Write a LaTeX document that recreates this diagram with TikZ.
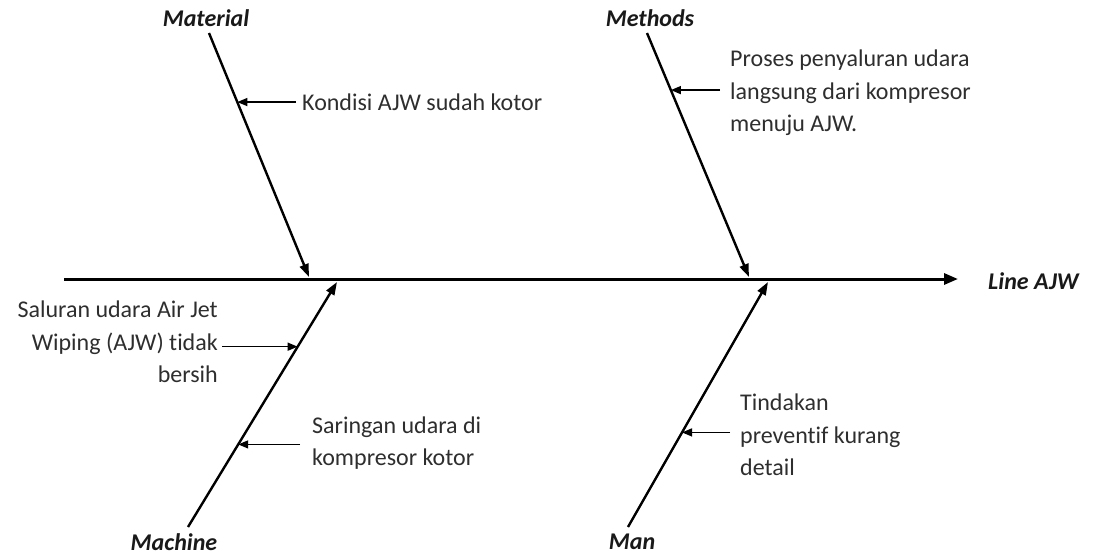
\documentclass[tikz,border=0pt]{standalone}
\usepackage{fontspec}
\setmainfont{Carlito}[Ligatures=NoCommon]
\usetikzlibrary{arrows.meta}
\begin{document}
\begin{tikzpicture}[x=1pt,y=-1pt,
  spine/.style={line width=3pt,-{Triangle[length=14pt,width=11pt]}},
  bone/.style={line width=2.4pt,-{Triangle[length=13pt,width=9pt]}},
  pointer/.style={line width=1.4pt,-{Triangle[length=10pt,width=8pt]}},
  cat/.style={font=\fontsize{24}{28}\selectfont\bfseries\itshape,text=black!90,inner sep=0pt},
  cause/.style={font=\fontsize{24}{32.5}\selectfont,text=black!82,inner sep=0pt},
]
\useasboundingbox (0,0) rectangle (1096,557);

% category labels and effect
\node[cat] (material) at (206,18) {Material};
\node[cat] (methods) at (650,18) {Methods};
\node[cat] (machine) at (174,542) {Machine};
\node[cat] (man) at (632,542) {Man};
\node[cat,anchor=west] (effect) at (988,281) {Line AJW};

% spine
\coordinate (tail) at (64,279);
\coordinate (head) at (958,279);
\draw[spine] (tail) -- (head);

% bones
\coordinate (matTop) at (209,33);
\coordinate (matEnd) at (309,277);
\coordinate (metTop) at (647,33);
\coordinate (metEnd) at (749,277);
\coordinate (macBot) at (188,527);
\coordinate (macEnd) at (337,282);
\coordinate (manBot) at (628,527);
\coordinate (manEnd) at (768,282);

\draw[bone] (matTop) -- (matEnd) coordinate[pos=0.283] (matP);
\draw[bone] (metTop) -- (metEnd) coordinate[pos=0.234] (metP);
\draw[bone] (macBot) -- (macEnd) coordinate[pos=0.736] (macP1) coordinate[pos=0.337] (macP2);
\draw[bone] (manBot) -- (manEnd) coordinate[pos=0.386] (manP);

% causes
\node[cause,anchor=west] (c1) at (302,102) {Kondisi AJW sudah kotor};
\node[cause,anchor=west,align=left] (c2) at (730,93) {Proses penyaluran udara\\langsung dari kompresor\\menuju AJW.};
\node[cause,anchor=east,align=right] (c3) at (218,342) {Saluran udara Air Jet\\Wiping (AJW) tidak\\bersih};
\node[cause,anchor=west,align=left] (c4) at (312,443) {Saringan udara di\\kompresor kotor};
\node[cause,anchor=west,align=left] (c5) at (740,435) {Tindakan\\preventif kurang\\detail};

\draw[pointer] ([xshift=-6pt]matP -| c1.west) -- (matP);
\draw[pointer] ([xshift=-10pt]metP -| c2.west) -- (metP);
\draw[pointer] ([xshift=4pt]macP1 -| c3.east) -- (macP1);
\draw[pointer] ([xshift=-12pt]macP2 -| c4.west) -- (macP2);
\draw[pointer] ([xshift=-10pt]manP -| c5.west) -- (manP);
\end{tikzpicture}
\end{document}
